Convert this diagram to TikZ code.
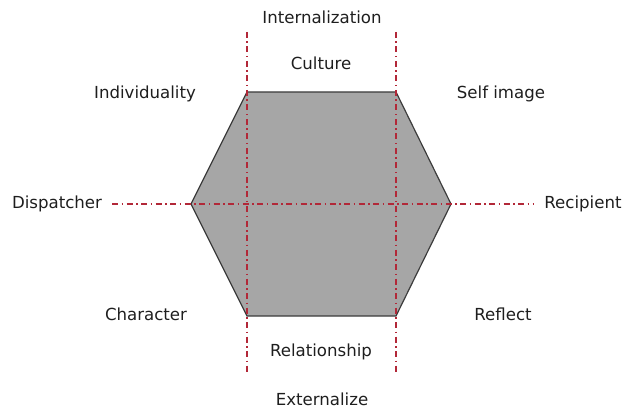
\documentclass[tikz,border=0pt]{standalone}
\usepackage{fontspec}
\setmainfont{DejaVu Sans}
\definecolor{axisred}{RGB}{178,40,56}
\definecolor{hexfill}{RGB}{166,166,166}
\definecolor{hexedge}{RGB}{60,60,60}
\definecolor{labeltext}{RGB}{30,30,30}
\begin{document}
\begin{tikzpicture}[x=1pt,y=1pt,
  lbl/.style={inner sep=0pt, text=labeltext, font=\fontsize{16.6}{19}\selectfont},
  axis/.style={draw=axisred, line width=1.4pt,
    dash pattern=on 6pt off 3.5pt on 1.5pt off 3.5pt},
  hexface/.style={fill=hexfill, draw=hexedge, line width=1.2pt, line join=miter}]
\useasboundingbox (0,0) rectangle (623,410);
% corners of the hexagon
\coordinate (tl) at (247,318);
\coordinate (tr) at (396,318);
\coordinate (r)  at (451,206);
\coordinate (br) at (396,94);
\coordinate (bl) at (247,94);
\coordinate (l)  at (191,206);
\path[hexface] (tl) -- (tr) -- (r) -- (br) -- (bl) -- (l) -- cycle;
% axis end points
\coordinate (vlt) at (247,378);
\coordinate (vlb) at (247,38);
\coordinate (vrt) at (396,378);
\coordinate (vrb) at (396,38);
\coordinate (hl) at (112,206);
\coordinate (hr) at (533,206);
\draw[axis] (vlt) -- (vlb);
\draw[axis] (vrt) -- (vrb);
\draw[axis] (hl) -- (hr);
% labels
\node[lbl] (intern) at (322,393) {Internalization};
\node[lbl] (culture) at (321,347) {Culture};
\node[lbl] (indiv) at (145,316) {Individuality};
\node[lbl] (self) at (501,316) {Self image};
\node[lbl] (disp) at (57,206) {Dispatcher};
\node[lbl] (recip) at (583,206) {Recipient};
\node[lbl] (charac) at (146,96) {Character};
\node[lbl] (reflect) at (503,96) {Reflect};
\node[lbl] (relat) at (321,58) {Relationship};
\node[lbl] (extern) at (322,11) {Externalize};
\end{tikzpicture}
\end{document}
